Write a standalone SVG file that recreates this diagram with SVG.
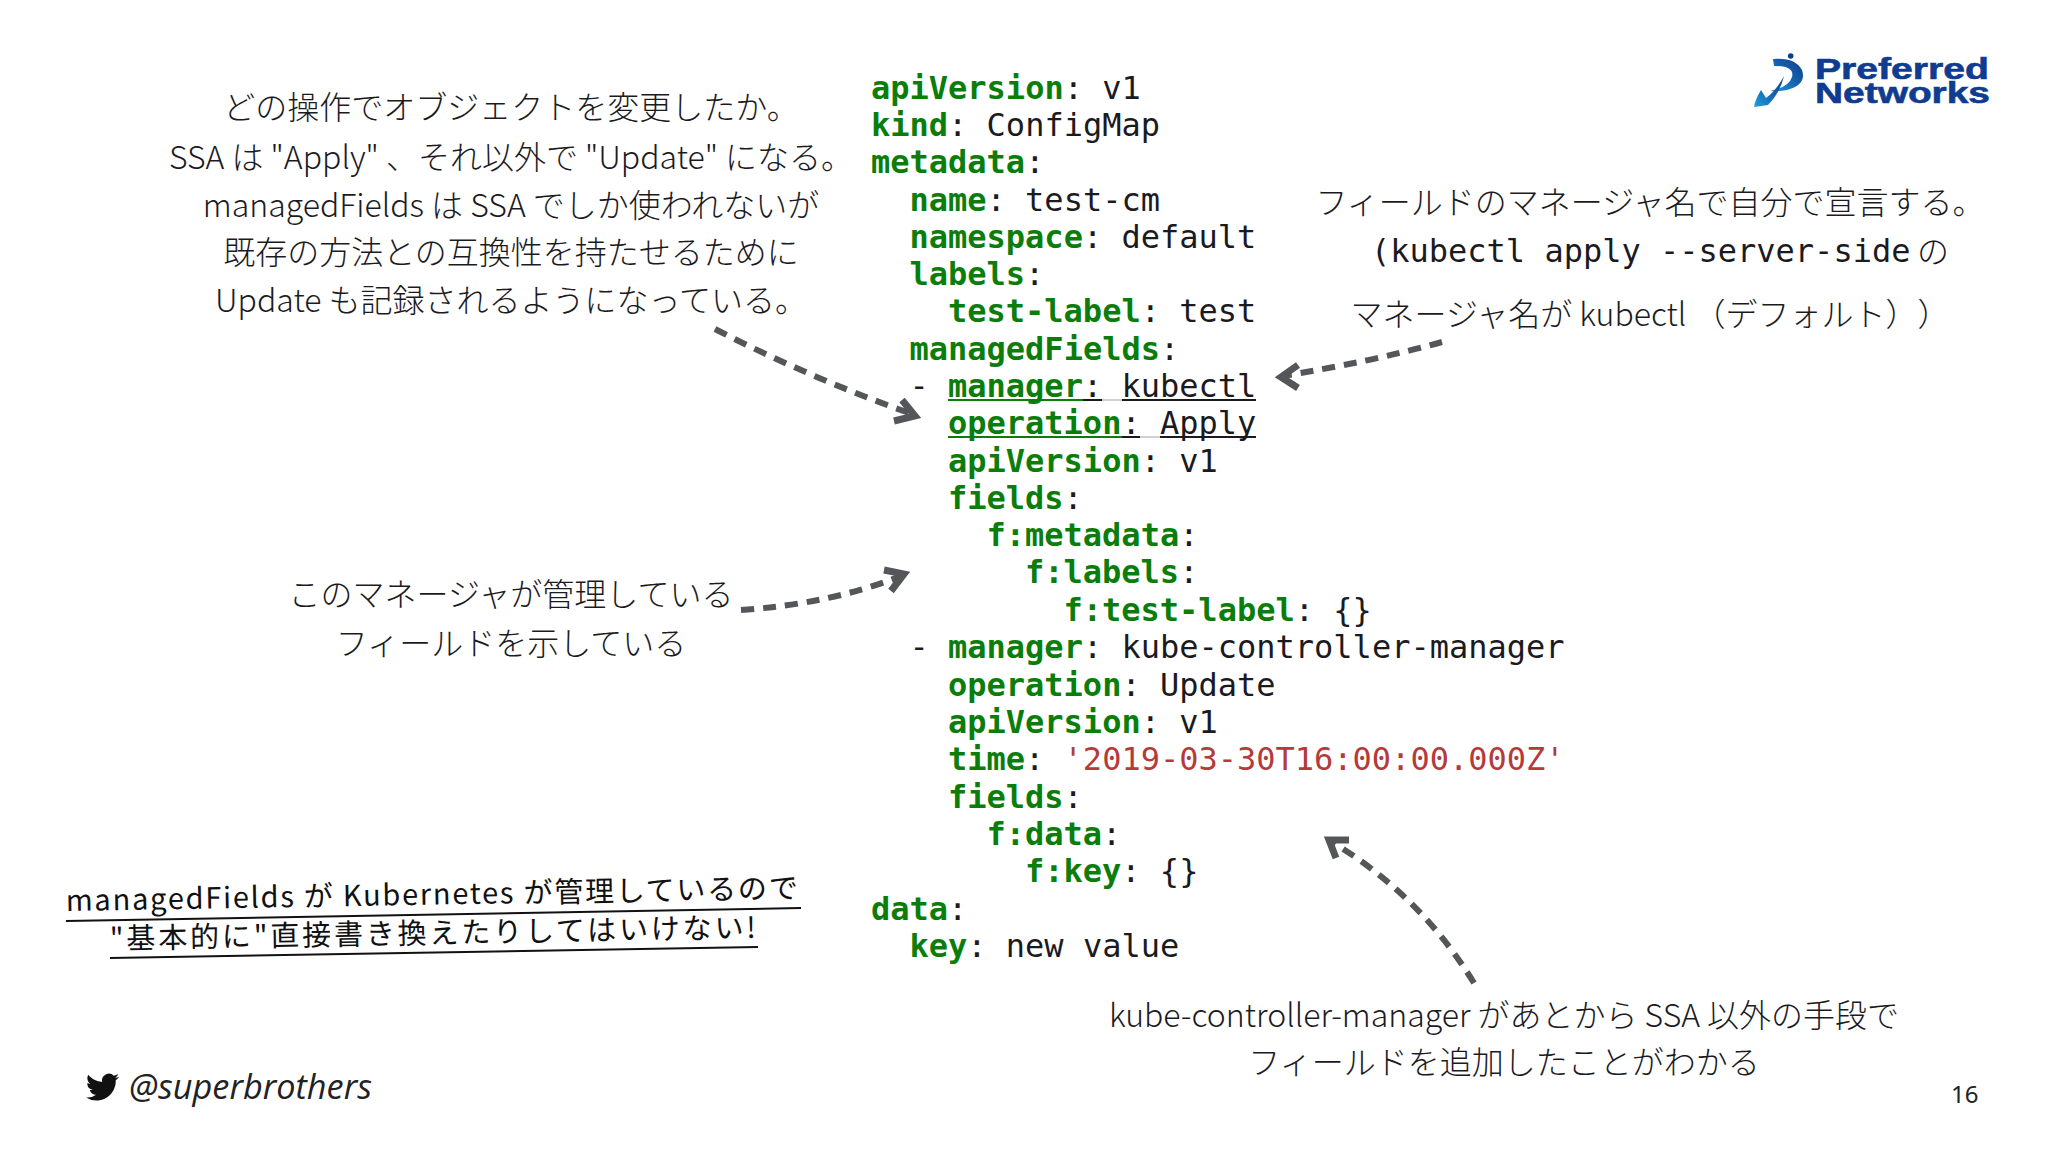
<svg xmlns="http://www.w3.org/2000/svg" width="2048" height="1152" viewBox="0 0 2048 1152">
<style>
.c{font-family:"DejaVu Sans Mono","Liberation Mono",monospace;font-size:32px;fill:#1b1b1f;white-space:pre}
.k{font-weight:700;fill:#0a7d0a}
.s{fill:#b53a3a}
.j{font-family:"Noto Sans CJK JP","Noto Sans",sans-serif;font-size:32px;font-weight:300;fill:#1b1b1f;text-anchor:middle}
.t{text-spacing-trim:space-all}
.h{font-family:"Noto Sans CJK JP","Noto Sans",sans-serif;font-size:29px;font-weight:400;fill:#111}
.d{fill:none;stroke:#55565a;stroke-width:6;stroke-dasharray:13 9}
.a{fill:none;stroke:#55565a;stroke-width:7;stroke-linejoin:miter}
.u{stroke-width:2;fill:none}
</style>
<defs>
<linearGradient id="lg" x1="0" y1="1" x2="1" y2="0"><stop offset="0" stop-color="#1ea0dc"/><stop offset="0.55" stop-color="#1560ad"/><stop offset="1" stop-color="#0f3c8f"/></linearGradient>
</defs>
<rect width="2048" height="1152" fill="#fff"/>
<g id="code">
<text class="c" x="871" y="99"><tspan class="k">apiVersion</tspan>: v1</text>
<text class="c" x="871" y="136"><tspan class="k">kind</tspan>: ConfigMap</text>
<text class="c" x="871" y="173"><tspan class="k">metadata</tspan>:</text>
<text class="c" x="909.500" y="211"><tspan class="k">name</tspan>: test-cm</text>
<text class="c" x="909.500" y="248"><tspan class="k">namespace</tspan>: default</text>
<text class="c" x="909.500" y="285"><tspan class="k">labels</tspan>:</text>
<text class="c" x="948" y="322"><tspan class="k">test-label</tspan>: test</text>
<text class="c" x="909.500" y="360"><tspan class="k">managedFields</tspan>:</text>
<text class="c" x="909.500" y="397">- <tspan class="k">manager</tspan>: kubectl</text>
<text class="c" x="948" y="434"><tspan class="k">operation</tspan>: Apply</text>
<text class="c" x="948" y="472"><tspan class="k">apiVersion</tspan>: v1</text>
<text class="c" x="948" y="509"><tspan class="k">fields</tspan>:</text>
<text class="c" x="986.500" y="546"><tspan class="k">f:metadata</tspan>:</text>
<text class="c" x="1025" y="583"><tspan class="k">f:labels</tspan>:</text>
<text class="c" x="1063.500" y="621"><tspan class="k">f:test-label</tspan>: {}</text>
<text class="c" x="909.500" y="658">- <tspan class="k">manager</tspan>: kube-controller-manager</text>
<text class="c" x="948" y="696"><tspan class="k">operation</tspan>: Update</text>
<text class="c" x="948" y="733"><tspan class="k">apiVersion</tspan>: v1</text>
<text class="c" x="948" y="770"><tspan class="k">time</tspan>: <tspan class="s">'2019-03-30T16:00:00.000Z'</tspan></text>
<text class="c" x="948" y="808"><tspan class="k">fields</tspan>:</text>
<text class="c" x="986.500" y="845"><tspan class="k">f:data</tspan>:</text>
<text class="c" x="1025" y="882"><tspan class="k">f:key</tspan>: {}</text>
<text class="c" x="871" y="920"><tspan class="k">data</tspan>:</text>
<text class="c" x="909.500" y="957"><tspan class="k">key</tspan>: new value</text>
<path class="u" stroke="#0a7d0a" d="M948 400H1083M948 437H1122"/>
<path class="u" stroke="#1b1b1f" d="M1083 400H1102M1122 400H1256M1122 437H1140M1160 437H1256"/>
<path class="u" stroke="#d0d0d0" d="M1102 400H1122M1140 437H1160"/>
</g>
<g id="note-operation">
<text class="j" x="511" y="119">どの操作でオブジェクトを変更したか。</text>
<text class="j" x="511" y="169">SSA は "Apply" 、それ以外で "Update" になる。</text>
<text class="j" x="511" y="217">managedFields は SSA でしか使われないが</text>
<text class="j" x="511" y="264">既存の方法との互換性を持たせるために</text>
<text class="j" x="511" y="312">Update も記録されるようになっている。</text>
</g>
<g id="note-manager">
<text class="j" x="1650" y="214">フィールドのマネージャ名で自分で宣言する。</text>
<text class="c" x="1371" y="262">(kubectl apply --server-side</text>
<text class="j" x="1933" y="263">の</text>
<text class="j t" x="1650" y="326">マネージャ名が kubectl （デフォルト））</text>
</g>
<g id="note-fields">
<text class="j" x="511" y="606">このマネージャが管理している</text>
<text class="j" x="511" y="655">フィールドを示している</text>
</g>
<g id="note-controller">
<text class="j" x="1504" y="1027">kube-controller-manager があとから SSA 以外の手段で</text>
<text class="j" x="1504" y="1074">フィールドを追加したことがわかる</text>
</g>
<g id="note-warning">
<text class="h" transform="translate(66 911) rotate(-1)" textLength="732">managedFields が Kubernetes が管理しているので</text>
<path d="M66 921L801 908" stroke="#111" stroke-width="2" fill="none"/>
<text class="h" transform="translate(110 949) rotate(-1)" textLength="646">"基本的に"直接書き換えたりしてはいけない!</text>
<path d="M110 958L758 947" stroke="#111" stroke-width="2" fill="none"/>
</g>
<g id="connectors">
<path class="d" d="M715 329Q810 378 912 414"/>
<path class="a" d="M902 400L915 416L894 421"/>
<path class="d" d="M741 610Q830 604 901 576"/>
<path class="a" d="M884 570L904 574L891 591"/>
<path class="d" d="M1442 342Q1370 362 1282 376"/>
<path class="a" d="M1298 365L1281 377L1298 388"/>
<path class="d" d="M1474 983Q1420 895 1332 842"/>
<path class="a" d="M1349 840L1329 840L1336 858"/>
</g>
<g id="logo">
<circle cx="1790.700" cy="56" r="2.800" fill="#0f3c8f"/>
<path fill="url(#lg)" d="M1773 59Q1795 57 1802 70Q1807 85 1787 90Q1776 92 1770 91Q1789 87 1792 77Q1795 66 1774 66Z"/>
<path fill="url(#lg)" d="M1761 90Q1755 100 1754 107L1768 105Q1780 93 1784 76Q1776 91 1766 98Z"/>
<text font-family="Liberation Sans,Arial,sans-serif" font-size="29" font-weight="700" fill="#0f3c8f" stroke="#0f3c8f" stroke-width="0.6"><tspan x="1815" y="79" textLength="174" lengthAdjust="spacingAndGlyphs">Preferred</tspan><tspan x="1815" y="103" textLength="175" lengthAdjust="spacingAndGlyphs">Networks</tspan></text>
</g>
<g id="twitter">
<path transform="translate(86 1070.500) scale(1.380)" fill="#111" d="M23.953 4.57a10 10 0 01-2.825.775 4.958 4.958 0 002.163-2.723c-.951.555-2.005.959-3.127 1.184a4.92 4.92 0 00-8.384 4.482C7.69 8.095 4.067 6.13 1.64 3.162a4.822 4.822 0 00-.666 2.475c0 1.71.87 3.213 2.188 4.096a4.904 4.904 0 01-2.228-.616v.06a4.923 4.923 0 003.946 4.827 4.996 4.996 0 01-2.212.085 4.936 4.936 0 004.604 3.417 9.867 9.867 0 01-6.102 2.105c-.39 0-.779-.023-1.17-.067a13.995 13.995 0 007.557 2.209c9.053 0 13.998-7.496 13.998-13.985 0-.21 0-.42-.015-.63A9.935 9.935 0 0024 4.59z"/>
<text x="129" y="1099" font-family="Open Sans,Noto Sans,sans-serif" font-style="italic" font-size="34" fill="#222" textLength="243" lengthAdjust="spacingAndGlyphs">@superbrothers</text>
</g>
<g id="page-number"><text x="1951" y="1103" font-family="Noto Sans,sans-serif" font-size="24" fill="#222">16</text></g>
</svg>
